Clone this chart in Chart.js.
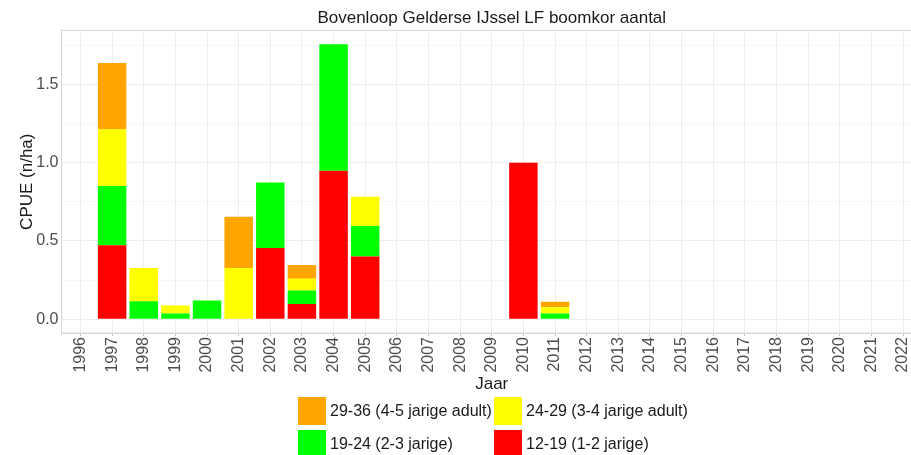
<!DOCTYPE html>
<html>
<head>
<meta charset="utf-8">
<title>Bovenloop Gelderse IJssel LF boomkor aantal</title>
<script src="https://cdn.jsdelivr.net/npm/chart.js@4"></script>
<style>
  html, body { margin:0; padding:0; background:#fff; overflow:hidden; width:911px; height:455px; }
  #wrap { position:relative; width:930px; height:470px; }
  #chart { display:block; }
  #legend {
    position:absolute; left:298px; top:397px;
    display:grid; grid-template-columns:196px auto; grid-auto-rows:32.5px;
    font-family:"Liberation Sans", Arial, sans-serif; font-size:16px; color:#1a1a1a;
  }
  .item { display:flex; align-items:flex-start; }
  .box { width:28px; height:28px; margin-right:4px; flex:none; }
  .lbl { line-height:28px; white-space:nowrap; }
</style>
</head>
<body>
<div id="wrap">
  <canvas id="chart" width="930" height="400"></canvas>
  <div id="legend"></div>
</div>
<script>
// data
const years = [1996,1997,1998,1999,2000,2001,2002,2003,2004,2005,2006,2007,2008,2009,2010,2011,2012,2013,2014,2015,2016,2017,2018,2019,2020,2021,2022];
const red    = [null,0.472,null,null,null,null,0.455,0.098,0.949,0.400,null,null,null,null,1.000,null,null,null,null,null,null,null,null,null,null,null,null];
const green  = [null,0.379,0.115,0.036,0.119,null,0.419,0.085,0.808,0.196,null,null,null,null,null,0.036,null,null,null,null,null,null,null,null,null,null,null];
const yellow = [null,0.362,0.212,0.051,null,0.327,null,0.076,null,0.187,null,null,null,null,null,0.041,null,null,null,null,null,null,null,null,null,null,null];
const orange = [null,0.423,null,null,null,0.328,null,0.088,null,null,null,null,null,null,null,0.035,null,null,null,null,null,null,null,null,null,null,null];
const seriesNames = ['12-19 (1-2 jarige)','19-24 (2-3 jarige)','24-29 (3-4 jarige adult)','29-36 (4-5 jarige adult)'];
const seriesColors = ['#FF0000','#00FF00','#FFFF00','#FFA500'];
const yTicks = [0, 0.5, 1, 1.5];

(function(){
  const font = '"Liberation Sans", Arial, sans-serif';
  const values = [red, green, yellow, orange];

  const datasets = values.map((v, i) => ({
    label: seriesNames[i],
    data: v,
    backgroundColor: seriesColors[i],
    borderWidth: 0,
    barPercentage: 0.9,
    categoryPercentage: 1
  }));

  // light grey frame round the panel
  const panelBorder = {
    id: 'panelBorder',
    afterDraw(chart){
      const a = chart.chartArea, ctx = chart.ctx;
      ctx.save();
      ctx.strokeStyle = '#d6d6d6';
      ctx.lineWidth = 1;
      ctx.strokeRect(a.left, a.top, a.right - a.left, a.bottom - a.top);
      ctx.restore();
    }
  };

  new Chart(document.getElementById('chart'), {
    type: 'bar',
    data: { labels: years, datasets },
    plugins: [panelBorder],
    options: {
      responsive: false,
      animation: false,
      layout: { padding: { top: 0, right: 8, bottom: 0, left: 0 } },
      plugins: {
        legend: { display: false },
        tooltip: { enabled: false },
        title: {
          display: true,
          fullSize: false,
          text: 'Bovenloop Gelderse IJssel LF boomkor aantal',
          color: '#1a1a1a',
          font: { family: font, size: 17, weight: 'normal' },
          padding: { top: 8, bottom: 2 }
        }
      },
      scales: {
        x: {
          type: 'linear',
          stacked: true,
          offset: false,
          min: 1995.4,
          max: 2022.6,
          afterFit(s){ s.height = 67; },
          ticks: {
            stepSize: 1,
            includeBounds: false,
            autoSkip: false,
            maxRotation: 90,
            minRotation: 90,
            padding: 1,
            color: '#4d4d4d',
            font: { family: font, size: 16 },
            callback: v => String(v)
          },
          grid: { offset: false, color: '#ededed', tickColor: '#bdbdbd', tickLength: 3 },
          border: { color: '#d6d6d6' },
          title: {
            display: true, text: 'Jaar', color: '#1a1a1a',
            font: { family: font, size: 17 },
            padding: { top: 0, bottom: 5 }
          }
        },
        y: {
          stacked: true,
          min: -0.0879,
          max: 1.845,
          afterFit(s){ s.width = 61.5; },
          afterBuildTicks(s){
            // major ticks plus ggplot style minor lines in between
            const t = [];
            yTicks.forEach(v => { t.push({ value: v, major: true }); t.push({ value: v + 0.25, major: false }); });
            s.ticks = t;
          },
          ticks: {
            padding: 3,
            color: '#4d4d4d',
            font: { family: font, size: 16 },
            callback: (v) => yTicks.includes(v) ? v.toFixed(1) : ''
          },
          grid: {
            drawTicks: false,
            color: ctx => (ctx.tick && ctx.tick.major) ? '#ededed' : '#f6f6f6'
          },
          border: { color: '#d6d6d6' },
          title: {
            display: true, text: 'CPUE (n/ha)', color: '#1a1a1a',
            font: { family: font, size: 17 },
            padding: { top: 17, bottom: 0 }
          }
        }
      }
    }
  });

  // legend: two columns, top series first
  const legend = document.getElementById('legend');
  [3, 2, 1, 0].forEach(i => {
    const item = document.createElement('div');
    item.className = 'item';
    item.innerHTML = '<span class="box" style="background:' + seriesColors[i] + '"></span><span class="lbl">' + seriesNames[i] + '</span>';
    legend.appendChild(item);
  });
})();
</script>
</body>
</html>
